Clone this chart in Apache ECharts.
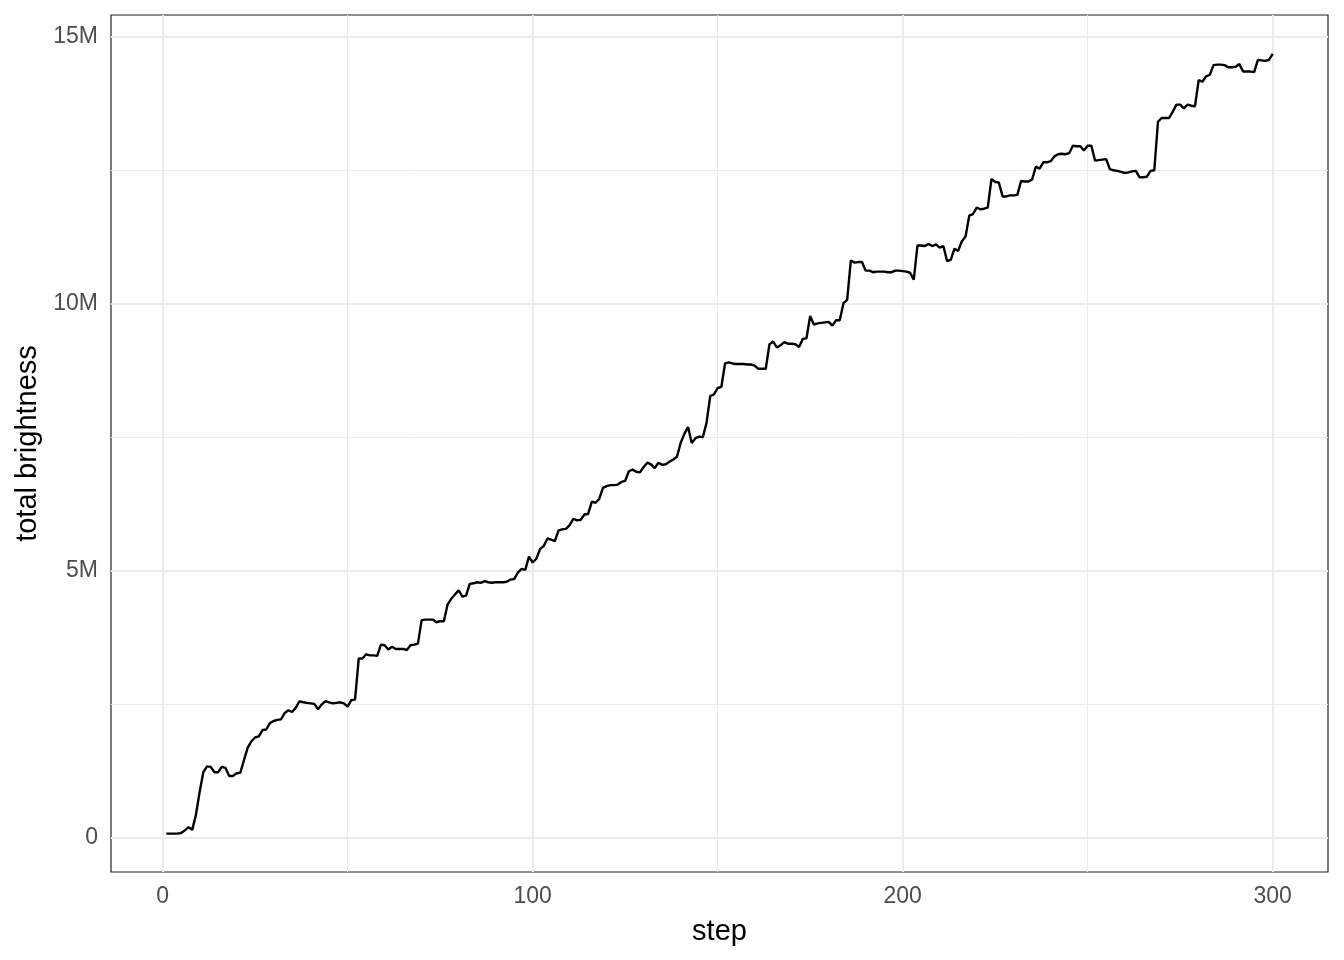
<!DOCTYPE html>
<html>
<head>
<meta charset="utf-8">
<script src="https://cdn.jsdelivr.net/npm/echarts@6/dist/echarts.min.js"></script>
<style>
  html, body { margin: 0; padding: 0; background: #ffffff; }
  #chart { width: 1344px; height: 960px; }
</style>
</head>
<body>
<div id="chart"></div>
<script>
// total brightness (millions) for step 1..300
const firstStep = 1;
const brightnessM = [
  0.07, 0.07, 0.07, 0.07, 0.08, 0.13, 0.19, 0.14, 0.42, 0.85,
  1.22, 1.33, 1.32, 1.22, 1.22, 1.32, 1.30, 1.15, 1.15, 1.20,
  1.21, 1.45, 1.68, 1.80, 1.87, 1.89, 2.01, 2.02, 2.14, 2.18,
  2.20, 2.21, 2.33, 2.38, 2.35, 2.43, 2.55, 2.53, 2.52, 2.51,
  2.50, 2.40, 2.49, 2.55, 2.53, 2.51, 2.52, 2.53, 2.51, 2.45,
  2.57, 2.58, 3.35, 3.35, 3.43, 3.41, 3.41, 3.40, 3.61, 3.60,
  3.52, 3.57, 3.53, 3.53, 3.53, 3.51, 3.60, 3.61, 3.63, 4.07,
  4.08, 4.08, 4.08, 4.03, 4.05, 4.05, 4.36, 4.47, 4.55, 4.63,
  4.51, 4.53, 4.75, 4.76, 4.78, 4.77, 4.80, 4.78, 4.77, 4.78,
  4.78, 4.78, 4.79, 4.83, 4.84, 4.96, 5.03, 5.01, 5.26, 5.15,
  5.22, 5.40, 5.46, 5.60, 5.58, 5.55, 5.75, 5.77, 5.78, 5.85,
  5.97, 5.94, 5.95, 6.05, 6.06, 6.29, 6.27, 6.34, 6.55, 6.58,
  6.60, 6.60, 6.61, 6.66, 6.68, 6.86, 6.89, 6.85, 6.84, 6.94,
  7.02, 6.99, 6.92, 7.02, 6.98, 6.99, 7.04, 7.08, 7.13, 7.39,
  7.56, 7.69, 7.39, 7.48, 7.51, 7.50, 7.77, 8.27, 8.30, 8.42,
  8.44, 8.88, 8.90, 8.88, 8.87, 8.87, 8.87, 8.86, 8.86, 8.84,
  8.78, 8.78, 8.78, 9.24, 9.29, 9.18, 9.22, 9.28, 9.25, 9.25,
  9.24, 9.19, 9.34, 9.35, 9.77, 9.61, 9.63, 9.64, 9.65, 9.66,
  9.59, 9.69, 9.69, 10.01, 10.07, 10.81, 10.77, 10.78, 10.78, 10.62,
  10.62, 10.59, 10.60, 10.60, 10.60, 10.59, 10.59, 10.62, 10.62, 10.61,
  10.60, 10.58, 10.45, 11.09, 11.09, 11.08, 11.12, 11.08, 11.11, 11.05,
  11.08, 10.80, 10.82, 11.03, 10.99, 11.17, 11.26, 11.65, 11.68, 11.80,
  11.77, 11.78, 11.80, 12.34, 12.28, 12.27, 12.01, 12.01, 12.03, 12.03,
  12.04, 12.30, 12.29, 12.29, 12.33, 12.57, 12.53, 12.65, 12.65, 12.67,
  12.76, 12.80, 12.81, 12.80, 12.82, 12.96, 12.95, 12.95, 12.87, 12.96,
  12.96, 12.68, 12.69, 12.70, 12.71, 12.52, 12.50, 12.49, 12.47, 12.45,
  12.46, 12.48, 12.49, 12.37, 12.37, 12.38, 12.49, 12.50, 13.41, 13.48,
  13.48, 13.48, 13.60, 13.73, 13.73, 13.66, 13.73, 13.71, 13.70, 14.19,
  14.16, 14.26, 14.29, 14.47, 14.48, 14.48, 14.47, 14.43, 14.43, 14.44,
  14.49, 14.35, 14.35, 14.35, 14.34, 14.57, 14.56, 14.55, 14.57, 14.68
];

const xTicks = [0, 100, 200, 300];
const xTickLabels = ['0', '100', '200', '300'];
const xMinor = [50, 150, 250];
const yTicks = [0, 5000000, 10000000, 15000000];
const yTickLabels = ['0', '5M', '10M', '15M'];
const yMinor = [2500000, 7500000, 12500000];

const seriesData = brightnessM.map((v, i) => [firstStep + i, v * 1e6]);

const GRID = '#EBEBEB';
const gridLines = [];
xMinor.forEach(v => gridLines.push({ xAxis: v, lineStyle: { color: GRID, width: 1, type: 'solid' } }));
yMinor.forEach(v => gridLines.push({ yAxis: v, lineStyle: { color: GRID, width: 1, type: 'solid' } }));
xTicks.forEach(v => gridLines.push({ xAxis: v, lineStyle: { color: GRID, width: 2, type: 'solid' } }));
yTicks.forEach(v => gridLines.push({ yAxis: v, lineStyle: { color: GRID, width: 2, type: 'solid' } }));

const chart = echarts.init(document.getElementById('chart'), null, { renderer: 'canvas' });
const FONT = '"Liberation Sans", Arial, Helvetica, sans-serif';

chart.setOption({
  animation: false,
  backgroundColor: '#ffffff',
  grid: {
    left: 111, right: 16, top: 15, bottom: 88,
    show: true, borderColor: '#222222', borderWidth: 1.2, backgroundColor: '#ffffff'
  },
  xAxis: {
    type: 'value',
    min: -13.95, max: 314.95,
    name: 'step',
    nameLocation: 'middle',
    nameGap: 45,
    nameTextStyle: { fontFamily: FONT, fontSize: 29, color: '#000000' },
    axisLine: { show: false },
    axisTick: { show: true, inside: false, length: 7, customValues: xTicks, lineStyle: { color: '#333333', width: 1.5 } },
    axisLabel: {
      show: true, customValues: xTicks, margin: 13,
      fontFamily: FONT, fontSize: 23, color: '#4D4D4D',
      formatter: v => xTickLabels[xTicks.indexOf(v)] ?? ''
    },
    splitLine: { show: false },
    minorSplitLine: { show: false }
  },
  yAxis: {
    type: 'value',
    min: -650000, max: 15410000,
    name: 'total brightness',
    nameLocation: 'middle',
    nameGap: 68,
    nameRotate: 90,
    nameTextStyle: { fontFamily: FONT, fontSize: 29, color: '#000000' },
    axisLine: { show: false },
    axisTick: { show: true, inside: false, length: 7, customValues: yTicks, lineStyle: { color: '#333333', width: 1.5 } },
    axisLabel: {
      show: true, customValues: yTicks, margin: 13,
      fontFamily: FONT, fontSize: 23, color: '#4D4D4D',
      padding: [3, 0, 0, 0],
      formatter: v => yTickLabels[yTicks.indexOf(v)] ?? ''
    },
    splitLine: { show: false },
    minorSplitLine: { show: false }
  },
  series: [
    {
      name: 'grid',
      type: 'line',
      z: 1,
      data: [],
      silent: true,
      markLine: {
        z: 1,
        silent: true,
        symbol: ['none', 'none'],
        label: { show: false },
        animation: false,
        data: gridLines
      }
    },
    {
      name: 'total brightness',
      type: 'line',
      z: 3,
      data: seriesData,
      showSymbol: false,
      symbol: 'none',
      smooth: false,
      lineStyle: { color: '#000000', width: 2.4 },
      silent: true
    }
  ]
});
</script>
</body>
</html>
